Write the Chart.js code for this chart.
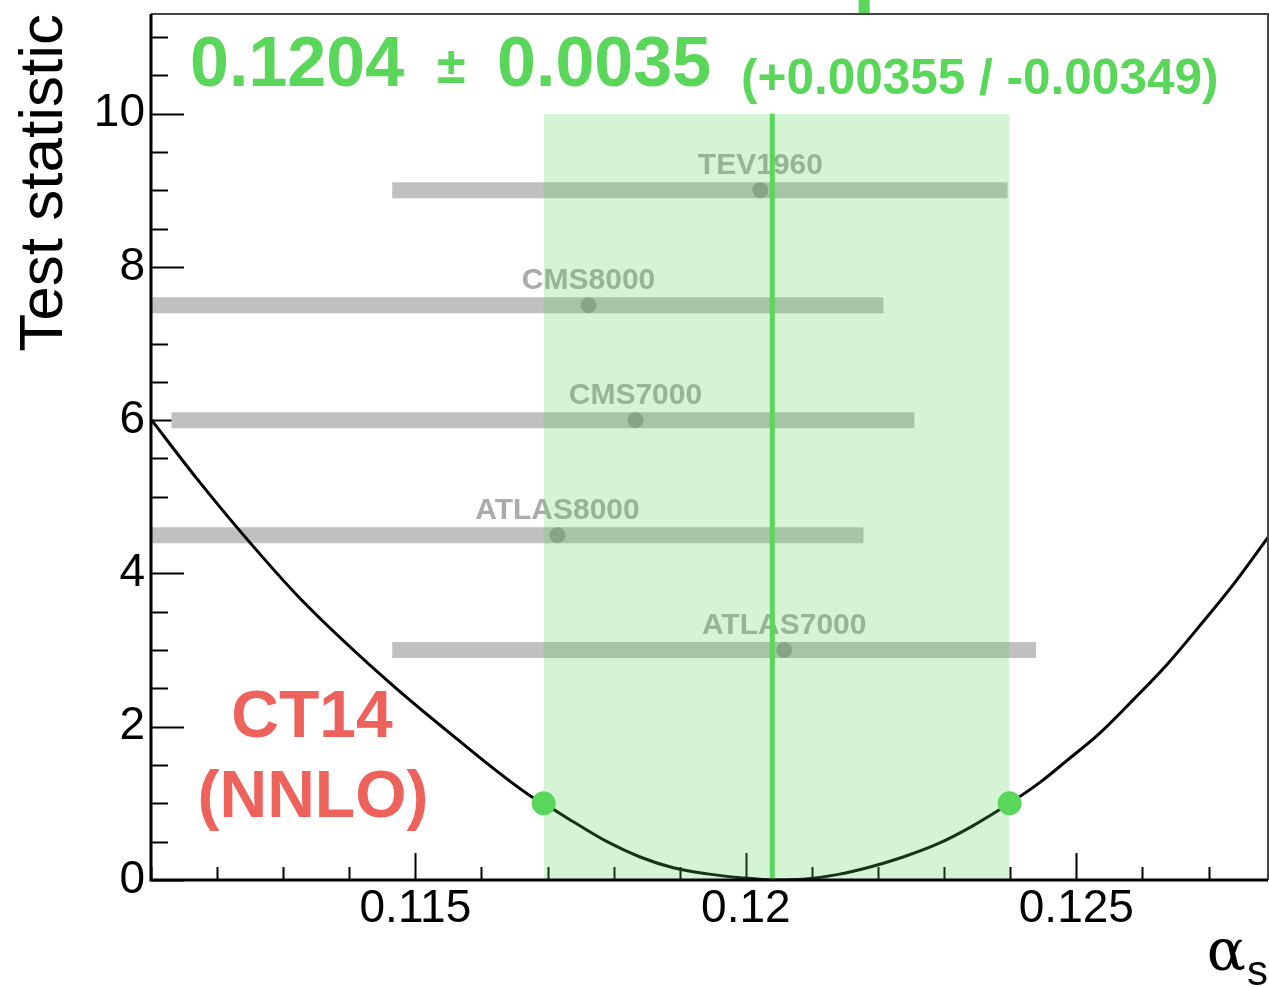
<!DOCTYPE html>
<html>
<head>
<meta charset="utf-8">
<script src="https://cdn.jsdelivr.net/npm/chart.js@4"></script>
<style>
  html, body { margin: 0; padding: 0; background: #fff; overflow: hidden; }
  #chart { display: block; }
</style>
</head>
<body>
<canvas id="chart" width="1269" height="987"></canvas>
<script>
// CT14 (NNLO) alpha_s scan
const curveX = [0.11101, 0.11170, 0.11240, 0.11326, 0.11455, 0.11553, 0.11677, 0.11694,
                0.11739, 0.11790, 0.11840, 0.11890, 0.11942, 0.11992, 0.12045, 0.12087,
                0.12138, 0.12188, 0.12238, 0.12290, 0.12340, 0.12399, 0.12446, 0.12486,
                0.12536, 0.12586, 0.12638, 0.12688, 0.12738, 0.12790];
const curveY = [6.00, 5.23, 4.50, 3.67, 2.62, 1.91, 1.08, 1.00,
                0.76, 0.50, 0.30, 0.16, 0.08, 0.03, 0.00, 0.01,
                0.07, 0.17, 0.30, 0.47, 0.69, 1.00, 1.28, 1.56,
                1.92, 2.35, 2.82, 3.33, 3.86, 4.47];

// individual experiments (gray bars)
const expNames   = ['TEV1960', 'CMS8000', 'CMS7000', 'ATLAS8000', 'ATLAS7000'];
const expLevel   = [9, 7.5, 6, 4.5, 3];
const expCentral = [0.12022, 0.11762, 0.11833, 0.11715, 0.12058];
const expLow     = [0.11465, 0.11000, 0.11131, 0.11000, 0.11465];
const expHigh    = [0.12396, 0.12208, 0.12255, 0.12178, 0.12439];

// best fit and its uncertainty band
const bestFit = 0.1204;
const fitLow = 0.11694;
const fitHigh = 0.12399;
const fitLevel = 1;
const bandTop = 10;
const topMarkX = 0.12179;

// axes
const xTicks = [0.115, 0.12, 0.125];
const xTickLabels = ['0.115', '0.12', '0.125'];
const yTicks = [0, 2, 4, 6, 8, 10];
const yTickLabels = ['0', '2', '4', '6', '8', '10'];
const xMinorStep = 0.001;
const yMinorStep = 0.5;

const GREEN = '#5ad65a';
const RED = '#ee625c';
const SANS = '"Liberation Sans", Arial, Helvetica, sans-serif';

const decor = {
    id: 'decor',
    beforeDatasetsDraw(chart) {
        const {ctx, chartArea: a, scales: {x, y}} = chart;
        ctx.save();
        // experiment names above their bars
        ctx.font = 'bold 30px ' + SANS;
        ctx.fillStyle = '#ababab';
        ctx.textAlign = 'center';
        ctx.textBaseline = 'alphabetic';
        expNames.forEach((n, i) => {
            ctx.fillText(n, x.getPixelForValue(expCentral[i]), y.getPixelForValue(expLevel[i]) - 16);
        });
        // tick marks pointing inwards
        ctx.strokeStyle = '#000';
        ctx.lineWidth = 2;
        ctx.beginPath();
        for (let k = Math.ceil(x.min / xMinorStep); k * xMinorStep <= x.max; k++) {
            const v = k * xMinorStep;
            const major = xTicks.some(t => Math.abs(t - v) < 1e-9);
            const px = Math.round(x.getPixelForValue(v)) + 0.5;
            ctx.moveTo(px, a.bottom);
            ctx.lineTo(px, a.bottom - (major ? 27 : 13));
        }
        for (let k = 0; k * yMinorStep <= y.max; k++) {
            const v = k * yMinorStep;
            const major = yTicks.includes(v);
            const py = Math.round(y.getPixelForValue(v)) + 0.5;
            ctx.moveTo(a.left, py);
            ctx.lineTo(a.left + (major ? 33 : 17), py);
        }
        ctx.stroke();
        ctx.restore();
    },
    afterDatasetsDraw(chart) {
        const {ctx, chartArea: a, scales: {x}} = chart;
        ctx.save();
        // frame
        ctx.strokeStyle = '#444';
        ctx.lineWidth = 2;
        ctx.beginPath();
        ctx.moveTo(a.left, a.top);
        ctx.lineTo(a.right, a.top);
        ctx.lineTo(a.right, a.bottom);
        ctx.stroke();
        ctx.strokeStyle = '#000';
        ctx.lineWidth = 3;
        ctx.beginPath();
        ctx.moveTo(a.left, a.top);
        ctx.lineTo(a.left, a.bottom);
        ctx.lineTo(a.right, a.bottom);
        ctx.stroke();

        // headline result
        ctx.fillStyle = GREEN;
        ctx.textAlign = 'left';
        ctx.textBaseline = 'alphabetic';
        ctx.font = 'bold 70px ' + SANS;
        ctx.fillText('0.1204', a.left + 39, 86);
        ctx.font = 'bold 52px ' + SANS;
        ctx.fillText('\u00b1', a.left + 286, 83);
        ctx.font = 'bold 70px ' + SANS;
        ctx.fillText('0.0035', a.left + 346, 86);
        ctx.font = 'bold 49.5px ' + SANS;
        ctx.fillText('(+0.00355 / -0.00349)', a.left + 590, 94);

        // PDF set label
        ctx.fillStyle = RED;
        ctx.textAlign = 'center';
        ctx.font = 'bold 66px ' + SANS;
        ctx.fillText('CT14', a.left + 161, 737);
        ctx.fillText('(NNLO)', a.left + 162, 817);

        // green marker sticking out above the frame
        ctx.fillStyle = GREEN;
        ctx.fillRect(x.getPixelForValue(topMarkX) - 5.5, 0, 11, a.top - 1);
        ctx.restore();
    },
    afterDraw(chart) {
        const {ctx, chartArea: a} = chart;
        ctx.save();
        ctx.fillStyle = '#000';
        ctx.textBaseline = 'alphabetic';
        ctx.textAlign = 'right';
        ctx.font = '42px ' + SANS;
        ctx.fillText('s', a.right, 985);
        const sw = ctx.measureText('s').width;
        ctx.font = '58px "DejaVu Serif", "Liberation Serif", serif';
        ctx.fillText('\u03b1', a.right - sw - 1, 970);
        ctx.restore();
    }
};

const tickFont = { family: SANS, size: 46, lineHeight: 1.2 };
const noPadding = s => { s.paddingLeft = 0; s.paddingRight = 0; s.paddingTop = 0; s.paddingBottom = 0; };

new Chart(document.getElementById('chart'), {
    type: 'line',
    data: {
        datasets: [
            {
                label: '68% points',
                type: 'scatter',
                data: [{x: fitLow, y: fitLevel}, {x: fitHigh, y: fitLevel}],
                pointRadius: 12,
                pointHoverRadius: 12,
                pointBackgroundColor: GREEN,
                pointBorderWidth: 0,
                order: 0
            },
            {
                label: 'best fit',
                data: [{x: bestFit, y: 0}, {x: bestFit, y: bandTop}],
                borderColor: GREEN,
                borderWidth: 5,
                pointRadius: 0,
                order: 1
            },
            {
                label: 'band',
                data: [{x: fitLow, y: bandTop}, {x: fitHigh, y: bandTop}],
                fill: 'origin',
                backgroundColor: 'rgba(88,213,88,0.25)',
                borderWidth: 0,
                pointRadius: 0,
                order: 2
            },
            {
                label: 'CT14 NNLO',
                data: curveX.map((v, i) => ({x: v, y: curveY[i]})),
                borderColor: '#000',
                borderWidth: 3,
                pointRadius: 0,
                cubicInterpolationMode: 'monotone',
                clip: 0,
                order: 3
            },
            {
                label: 'experiments',
                type: 'scatter',
                data: expCentral.map((v, i) => ({x: v, y: expLevel[i]})),
                pointRadius: 8,
                pointBackgroundColor: '#969696',
                pointBorderWidth: 0,
                order: 4
            },
            ...expNames.map((n, i) => ({
                label: n,
                data: [{x: expLow[i], y: expLevel[i]}, {x: expHigh[i], y: expLevel[i]}],
                borderColor: '#c0c0c0',
                borderWidth: 16,
                borderCapStyle: 'butt',
                pointRadius: 0,
                clip: 0,
                order: 5
            }))
        ]
    },
    options: {
        responsive: false,
        animation: false,
        devicePixelRatio: 1,
        layout: { autoPadding: false, padding: { top: 14, right: 1, left: 0, bottom: 0 } },
        plugins: { legend: { display: false }, tooltip: { enabled: false } },
        scales: {
            x: {
                type: 'linear',
                min: 0.111,
                max: 0.1279,
                grid: { display: false, drawTicks: false, tickLength: 0 },
                border: { display: false },
                afterBuildTicks: s => { s.ticks = xTicks.map(v => ({value: v})); },
                afterFit: s => { s.height = 107; noPadding(s); },
                ticks: {
                    font: tickFont,
                    color: '#000',
                    padding: 2,
                    maxRotation: 0,
                    autoSkip: false,
                    callback: v => xTickLabels[xTicks.indexOf(v)]
                }
            },
            y: {
                type: 'linear',
                min: 0,
                max: 11.3,
                grid: { display: false, drawTicks: false, tickLength: 0 },
                border: { display: false },
                afterBuildTicks: s => { s.ticks = yTicks.map(v => ({value: v})); },
                afterFit: s => { s.width = 151; noPadding(s); },
                ticks: {
                    font: tickFont,
                    color: '#000',
                    padding: 6,
                    autoSkip: false,
                    callback: v => yTickLabels[yTicks.indexOf(v)]
                },
                title: {
                    display: true,
                    text: 'Test statistic',
                    align: 'end',
                    color: '#000',
                    font: { family: SANS, size: 62, lineHeight: 1.2 },
                    padding: { top: 8, bottom: 0 }
                }
            }
        }
    },
    plugins: [decor]
});
</script>
</body>
</html>
